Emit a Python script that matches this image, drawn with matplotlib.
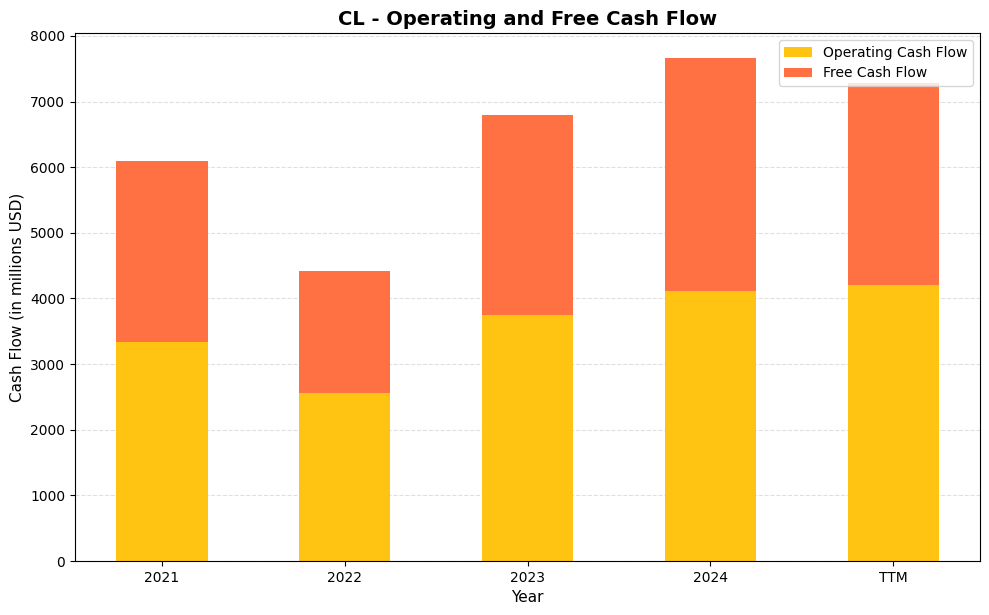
import numpy as np
import matplotlib
matplotlib.use('Agg')
import matplotlib.pyplot as plt

years = ['2021', '2022', '2023', '2024', 'TTM']
operating_cf = [3335, 2560, 3749, 4114, 4206]
free_cf = [2756, 1859, 3047, 3551, 3075]

x = np.arange(len(years))

fig, ax = plt.subplots(figsize=(9.89, 6.15), dpi=100)
ax.bar(x, operating_cf, width=0.5, color='#FFC312', label='Operating Cash Flow')
ax.bar(x, free_cf, width=0.5, bottom=operating_cf, color='#FF7043', label='Free Cash Flow')

ax.set_xticks(x)
ax.set_xticklabels(years)
ax.set_ylim(0, 8045)
ax.set_xlabel('Year', fontsize=11)
ax.set_ylabel('Cash Flow (in millions USD)', fontsize=11)
ax.set_title('CL - Operating and Free Cash Flow', fontsize=14, fontweight='bold')
ax.grid(axis='y', linestyle='--', alpha=0.4)
ax.set_axisbelow(True)
ax.legend(loc='upper right')

# match the reference axes box
plt.subplots_adjust(left=0.0758, right=0.991, top=0.9463, bottom=0.0878)
plt.savefig('out.png')
